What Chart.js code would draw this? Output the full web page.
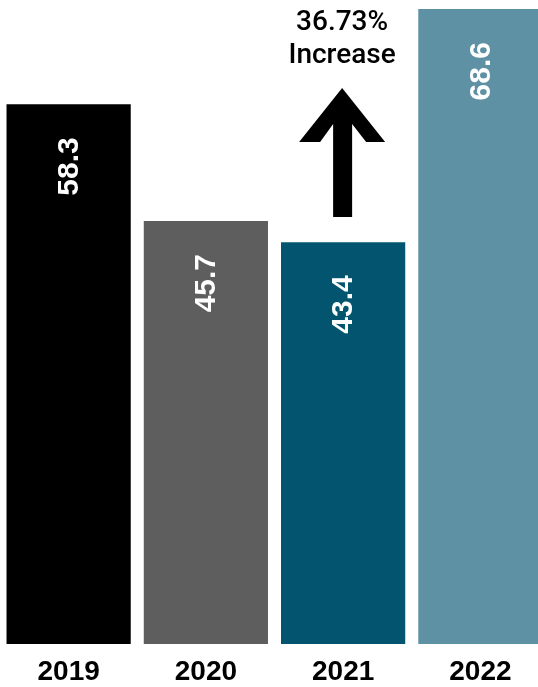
<!DOCTYPE html>
<html>
<head>
<meta charset="utf-8">
<script src="https://cdn.jsdelivr.net/npm/chart.js@4"></script>
<style>
  html, body { margin: 0; padding: 0; overflow: hidden; background: #fff; }
</style>
</head>
<body>
<canvas id="yearsChart" width="549" height="687"></canvas>
<script>
const years = ['2019', '2020', '2021', '2022'];
const values = [58.3, 45.7, 43.4, 68.6];
const barColors = ['#000000', '#5e5e5e', '#02546f', '#5e91a4'];
const noteLines = ['36.73%', 'Increase'];

const labelFont = '"Liberation Sans", Arial, sans-serif';

// white rotated value inside each bar
const valueLabels = {
    id: 'valueLabels',
    afterDatasetsDraw(chart) {
        const ctx = chart.ctx;
        chart.getDatasetMeta(0).data.forEach((bar, i) => {
            ctx.save();
            ctx.translate(bar.x, bar.y + 33);
            ctx.rotate(-Math.PI / 2);
            ctx.fillStyle = '#ffffff';
            ctx.font = 'bold 30px ' + labelFont;
            ctx.textAlign = 'right';
            ctx.textBaseline = 'middle';
            ctx.fillText(values[i].toFixed(1), 0, 1);
            ctx.restore();
        });
    }
};

// arrow + "36.73% Increase" above 2021
const increaseNote = {
    id: 'increaseNote',
    afterDraw(chart) {
        const ctx = chart.ctx;
        const bar = chart.getDatasetMeta(0).data[2];
        const cx = bar.x - 1;
        const top = chart.chartArea.top;
        ctx.save();
        ctx.fillStyle = '#000';
        ctx.font = '500 28px Roboto, "Liberation Sans", sans-serif';
        ctx.textAlign = 'center';
        ctx.textBaseline = 'middle';
        ctx.fillText(noteLines[0], cx, top + 14);
        ctx.fillText(noteLines[1], cx, top + 47);

        ctx.beginPath();
        ctx.moveTo(cx, top + 79);
        ctx.lineTo(cx + 43, top + 133);
        ctx.lineTo(cx + 24, top + 133);
        ctx.lineTo(cx + 10, top + 115);
        ctx.lineTo(cx + 10, top + 208);
        ctx.lineTo(cx - 9, top + 208);
        ctx.lineTo(cx - 9, top + 115);
        ctx.lineTo(cx - 22, top + 133);
        ctx.lineTo(cx - 43, top + 133);
        ctx.closePath();
        ctx.fill();
        ctx.restore();
    }
};

const ctx = document.getElementById('yearsChart').getContext('2d');
const yearsChart = new Chart(ctx, {
    type: 'bar',
    data: {
        labels: years,
        datasets: [{
            data: values,
            backgroundColor: barColors,
            borderWidth: 0,
            categoryPercentage: 1,
            barPercentage: 0.905
        }]
    },
    options: {
        responsive: false,
        animation: false,
        layout: { padding: { top: 9, left: 0, right: 0, bottom: -13 } },
        plugins: {
            legend: { display: false },
            tooltip: { enabled: false }
        },
        scales: {
            x: {
                grid: { display: false, drawTicks: false },
                border: { display: false },
                ticks: {
                    color: '#000',
                    padding: 14,
                    font: { family: labelFont, size: 28, weight: 'bold', lineHeight: 1 }
                }
            },
            y: {
                display: false,
                min: 0,
                max: 68.6
            }
        }
    },
    plugins: [valueLabels, increaseNote]
});
</script>
</body>
</html>
